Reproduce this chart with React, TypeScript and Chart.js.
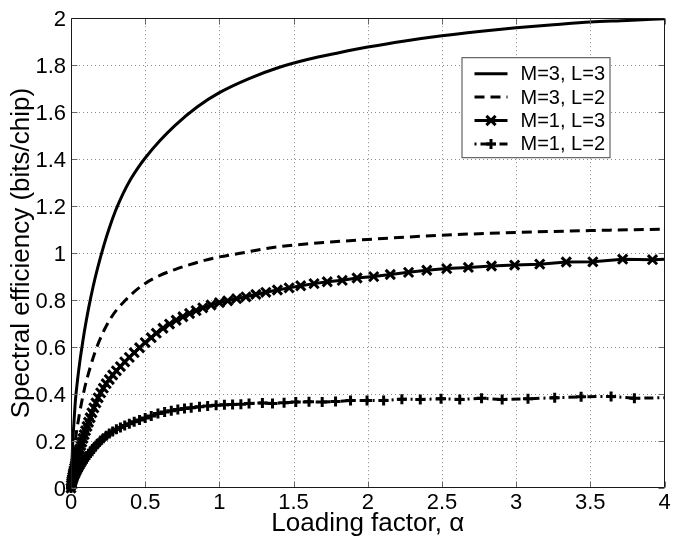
import React, { useEffect, useRef } from 'react';
import { Chart, registerables } from 'chart.js';

Chart.register(...registerables);

// ---------- data ----------
const xTickValues = [0, 0.5, 1, 1.5, 2, 2.5, 3, 3.5, 4];
const xTickLabels = ['0', '0.5', '1', '1.5', '2', '2.5', '3', '3.5', '4'];
const yTickValues = [0, 0.2, 0.4, 0.6, 0.8, 1, 1.2, 1.4, 1.6, 1.8, 2];
const yTickLabels = ['0', '0.2', '0.4', '0.6', '0.8', '1', '1.2', '1.4', '1.6', '1.8', '2'];

const seriesLabels = ['M=3, L=3', 'M=3, L=2', 'M=1, L=3', 'M=1, L=2'];
const xAxisTitle = 'Loading factor, α';
const yAxisTitle = 'Spectral efficiency (bits/chip)';

// M=3, L=3 (solid)
const m3l3X = [0, 0.01, 0.02, 0.03, 0.045, 0.06, 0.08, 0.1, 0.12, 0.15, 0.18, 0.22, 0.26, 0.3, 0.35, 0.4, 0.45, 0.5, 0.6, 0.7, 0.85, 1.0, 1.2, 1.4, 1.6, 1.8, 2.0, 2.25, 2.5, 2.75, 3.0, 3.25, 3.5, 3.75, 4.0];
const m3l3Y = [0, 0.17, 0.28, 0.375, 0.465, 0.54, 0.626, 0.702, 0.77, 0.86, 0.938, 1.03, 1.11, 1.18, 1.252, 1.312, 1.362, 1.405, 1.479, 1.543, 1.622, 1.683, 1.743, 1.79, 1.825, 1.852, 1.877, 1.903, 1.925, 1.943, 1.959, 1.972, 1.984, 1.99, 1.998];

// M=3, L=2 (dashed)
const m3l2X = [0, 0.01, 0.02, 0.035, 0.05, 0.07, 0.09, 0.11, 0.13, 0.16, 0.19, 0.23, 0.27, 0.31, 0.36, 0.42, 0.5, 0.6, 0.7, 0.8, 0.9, 1.0, 1.15, 1.3, 1.5, 1.75, 2.0, 2.5, 3.0, 3.5, 4.0];
const m3l2Y = [0, 0.09, 0.15, 0.23, 0.29, 0.36, 0.42, 0.47, 0.515, 0.575, 0.625, 0.68, 0.725, 0.76, 0.795, 0.832, 0.871, 0.905, 0.93, 0.951, 0.969, 0.984, 1.0, 1.018, 1.034, 1.047, 1.058, 1.076, 1.088, 1.096, 1.102];

// M=1, L=3 (solid with x markers)
const m1l3X = [0, 0.002, 0.004, 0.006, 0.008, 0.011, 0.014, 0.017, 0.02, 0.024, 0.028, 0.032, 0.037, 0.042, 0.047, 0.053, 0.059, 0.066, 0.073, 0.081, 0.089, 0.098, 0.108, 0.118, 0.129, 0.141, 0.154, 0.168, 0.183, 0.2, 0.218, 0.237, 0.258, 0.281, 0.306, 0.333, 0.362, 0.393, 0.426, 0.462, 0.5,
  0.541, 0.575, 0.62, 0.664, 0.709, 0.754, 0.799, 0.843, 0.888, 0.944, 1.0, 1.056, 1.116, 1.179, 1.246, 1.313, 1.391, 1.47, 1.548, 1.638, 1.727, 1.828, 1.928, 2.04, 2.152, 2.275, 2.398, 2.532, 2.678, 2.834, 2.99, 3.159, 3.338, 3.517, 3.718, 3.919, 4.12];
const m1l3Y = [0, 0.013, 0.022, 0.03, 0.037, 0.047, 0.057, 0.065, 0.074, 0.085, 0.095, 0.105, 0.117, 0.129, 0.141, 0.154, 0.166, 0.181, 0.195, 0.211, 0.227, 0.244, 0.262, 0.28, 0.299, 0.32, 0.341, 0.362, 0.384, 0.405, 0.425, 0.444, 0.462, 0.481, 0.499, 0.517, 0.537, 0.556, 0.576, 0.597, 0.619,
  0.64, 0.659, 0.68, 0.698, 0.714, 0.729, 0.743, 0.755, 0.767, 0.779, 0.789, 0.797, 0.806, 0.814, 0.824, 0.833, 0.843, 0.852, 0.861, 0.87, 0.878, 0.884, 0.894, 0.9, 0.909, 0.918, 0.927, 0.934, 0.939, 0.945, 0.949, 0.953, 0.962, 0.963, 0.974, 0.972, 0.977];

// M=1, L=2 (dash-dot with + markers)
const m1l2X = [0, 0.002, 0.004, 0.006, 0.008, 0.011, 0.014, 0.017, 0.02, 0.024, 0.028, 0.032, 0.037, 0.042, 0.047, 0.053, 0.059, 0.066, 0.073, 0.081, 0.089, 0.098, 0.108, 0.118, 0.129, 0.141, 0.154, 0.168, 0.183, 0.2, 0.218, 0.237, 0.258, 0.281, 0.306, 0.333, 0.362, 0.393, 0.426, 0.462, 0.5,
  0.541, 0.586, 0.631, 0.676, 0.72, 0.765, 0.81, 0.866, 0.921, 0.978, 1.034, 1.089, 1.145, 1.2, 1.29, 1.358, 1.436, 1.515, 1.604, 1.693, 1.783, 1.884, 1.995, 2.107, 2.23, 2.354, 2.494, 2.62, 2.767, 2.906, 3.08, 3.26, 3.438, 3.64, 3.797, 4.05];
const m1l2Y = [0, 0.007, 0.012, 0.016, 0.02, 0.025, 0.03, 0.034, 0.039, 0.045, 0.05, 0.055, 0.062, 0.068, 0.074, 0.081, 0.087, 0.095, 0.102, 0.11, 0.118, 0.126, 0.134, 0.142, 0.151, 0.161, 0.171, 0.181, 0.19, 0.202, 0.212, 0.222, 0.232, 0.241, 0.25, 0.258, 0.266, 0.274, 0.282, 0.29, 0.298,
  0.307, 0.317, 0.324, 0.329, 0.334, 0.338, 0.342, 0.346, 0.349, 0.352, 0.354, 0.356, 0.357, 0.36, 0.362, 0.36, 0.363, 0.366, 0.367, 0.366, 0.368, 0.373, 0.372, 0.372, 0.378, 0.377, 0.38, 0.377, 0.382, 0.377, 0.38, 0.384, 0.388, 0.39, 0.382, 0.385];

// ---------- styles ----------
const FONT = '"Liberation Sans", Arial, Helvetica, sans-serif';
const DASH_2 = [10, 6];
const DASH_4 = [9, 4, 2, 4];

const toPoints = (xs: number[], ys: number[]) => xs.map((x, i) => ({ x, y: ys[i] }));

function drawMarker(ctx: CanvasRenderingContext2D, kind: string, x: number, y: number, r: number) {
  ctx.beginPath();
  if (kind === 'cross') {
    ctx.moveTo(x - r, y); ctx.lineTo(x + r, y);
    ctx.moveTo(x, y - r); ctx.lineTo(x, y + r);
  } else {
    const d = r * Math.SQRT1_2;
    ctx.moveTo(x - d, y - d); ctx.lineTo(x + d, y + d);
    ctx.moveTo(x - d, y + d); ctx.lineTo(x + d, y - d);
  }
  ctx.stroke();
}

const framePlugin = {
  id: 'matlabFrame',
  beforeDatasetsDraw(chart: any) {
    const { ctx, chartArea: a, scales } = chart;
    const xs = scales.x, ys = scales.y;
    ctx.save();
    ctx.strokeStyle = '#8a8a8a';
    ctx.lineWidth = 1;
    ctx.setLineDash([1, 3]);
    xTickValues.slice(1, -1).forEach((v) => {
      const px = Math.round(xs.getPixelForValue(v)) + 0.5;
      ctx.beginPath(); ctx.moveTo(px, a.top); ctx.lineTo(px, a.bottom); ctx.stroke();
    });
    yTickValues.slice(1, -1).forEach((v) => {
      const py = Math.round(ys.getPixelForValue(v)) + 0.5;
      ctx.beginPath(); ctx.moveTo(a.left, py); ctx.lineTo(a.right, py); ctx.stroke();
    });
    ctx.restore();
  },
  afterDatasetsDraw(chart: any) {
    const { ctx, chartArea: a, scales } = chart;
    const xs = scales.x, ys = scales.y;
    const L = Math.round(a.left) + 0.5, R = Math.round(a.right) - 0.5;
    const T = Math.round(a.top) + 0.5, B = Math.round(a.bottom) - 0.5;
    ctx.save();
    ctx.setLineDash([]);
    ctx.strokeStyle = '#666';
    ctx.lineWidth = 1;
    const tl = 6;
    xTickValues.forEach((v) => {
      const px = Math.round(xs.getPixelForValue(v)) + 0.5;
      ctx.beginPath();
      ctx.moveTo(px, B); ctx.lineTo(px, B - tl);
      ctx.moveTo(px, T); ctx.lineTo(px, T + tl);
      ctx.stroke();
    });
    yTickValues.forEach((v) => {
      const py = Math.round(ys.getPixelForValue(v)) + 0.5;
      ctx.beginPath();
      ctx.moveTo(L, py); ctx.lineTo(L + tl, py);
      ctx.moveTo(R, py); ctx.lineTo(R - tl, py);
      ctx.stroke();
    });
    ctx.strokeStyle = '#1a1a1a';
    ctx.beginPath();
    ctx.rect(L, T, R - L, B - T);
    ctx.stroke();
    ctx.restore();
  },
  afterDraw(chart: any) {
    const { ctx, chartArea: a } = chart;
    const boxL = a.right - 203, boxT = a.top + 39, boxW = 149, boxH = 101;
    ctx.save();
    ctx.fillStyle = '#ffffff';
    ctx.fillRect(boxL, boxT, boxW, boxH);
    ctx.strokeStyle = '#444';
    ctx.lineWidth = 1;
    ctx.setLineDash([]);
    ctx.strokeRect(boxL + 0.5, boxT + 0.5, boxW - 1, boxH - 1);
    const ds = chart.data.datasets;
    ds.forEach((d: any, i: number) => {
      const ry = boxT + 16.5 + i * 23.4;
      const x1 = boxL + 13, x2 = boxL + 46;
      ctx.strokeStyle = '#000';
      ctx.lineWidth = d.borderWidth;
      ctx.setLineDash(d.borderDash || []);
      ctx.lineDashOffset = i === 3 ? 13 : 0;
      ctx.beginPath(); ctx.moveTo(x1, ry); ctx.lineTo(x2, ry); ctx.stroke();
      ctx.setLineDash([]);
      if (d.pointRadius > 0) {
        ctx.lineWidth = d.pointBorderWidth;
        drawMarker(ctx, d.pointStyle, (x1 + x2) / 2, ry, d.pointRadius);
      }
      ctx.fillStyle = '#000';
      ctx.font = `20px ${FONT}`;
      ctx.textBaseline = 'middle';
      ctx.textAlign = 'left';
      ctx.fillText(seriesLabels[i], boxL + 59, ry + 1);
    });
    ctx.restore();
  },
};

export default function App() {
  const ref = useRef<HTMLCanvasElement | null>(null);

  useEffect(() => {
    if (!ref.current) return;
    const clip = { left: 8, top: 0, right: 0, bottom: 8 };
    const chart = new Chart(ref.current, {
      type: 'line',
      data: {
        datasets: [
          {
            label: seriesLabels[0], data: toPoints(m3l3X, m3l3Y),
            borderColor: '#000', borderWidth: 3, pointRadius: 0,
            cubicInterpolationMode: 'monotone', clip,
          },
          {
            label: seriesLabels[1], data: toPoints(m3l2X, m3l2Y),
            borderColor: '#000', borderWidth: 3, borderDash: DASH_2, pointRadius: 0,
            cubicInterpolationMode: 'monotone', clip,
          },
          {
            label: seriesLabels[2], data: toPoints(m1l3X, m1l3Y),
            borderColor: '#000', borderWidth: 3, tension: 0,
            pointStyle: 'crossRot', pointRadius: 6.5, pointBorderWidth: 3,
            pointBorderColor: '#000', pointBackgroundColor: '#000', clip,
          },
          {
            label: seriesLabels[3], data: toPoints(m1l2X, m1l2Y),
            borderColor: '#000', borderWidth: 3, borderDash: DASH_4, tension: 0,
            pointStyle: 'cross', pointRadius: 5, pointBorderWidth: 3,
            pointBorderColor: '#000', pointBackgroundColor: '#000', clip,
          },
        ] as any,
      },
      options: {
        animation: false,
        responsive: false,
        devicePixelRatio: 1,
        events: [],
        layout: { padding: { left: 0, top: 18, right: 7, bottom: 0 } },
        plugins: { legend: { display: false }, tooltip: { enabled: false } },
        scales: {
          x: {
            type: 'linear', min: 0, max: 4,
            afterBuildTicks: (s: any) => { s.ticks = xTickValues.map((v) => ({ value: v })); },
            afterFit: (s: any) => { s.height = 54; },
            grid: { display: false, drawTicks: false },
            border: { display: false },
            ticks: {
              color: '#000', font: { family: FONT, size: 22 }, padding: 2,
              maxRotation: 0, autoSkip: false,
              callback: (_v: any, i: number) => xTickLabels[i],
            },
            title: {
              display: true, text: xAxisTitle, color: '#000',
              font: { family: FONT, size: 26 }, padding: { top: 0, bottom: 3 },
            },
          },
          y: {
            type: 'linear', min: 0, max: 2,
            afterBuildTicks: (s: any) => { s.ticks = yTickValues.map((v) => ({ value: v })); },
            afterFit: (s: any) => { s.width = 71; },
            grid: { display: false, drawTicks: false },
            border: { display: false },
            ticks: {
              color: '#000', font: { family: FONT, size: 22 }, padding: 5, labelOffset: 2,
              autoSkip: false,
              callback: (_v: any, i: number) => yTickLabels[i],
            },
            title: {
              display: true, text: yAxisTitle, color: '#000',
              font: { family: FONT, size: 26 }, padding: { top: 6, bottom: 0 },
            },
          },
        },
      } as any,
      plugins: [framePlugin],
    });
    return () => chart.destroy();
  }, []);

  return (
    <div style={{ position: 'absolute', left: 0, top: 0, width: 674, height: 542, background: '#fff' }}>
      <canvas ref={ref} width={674} height={542} style={{ width: 674, height: 542, display: 'block' }} />
    </div>
  );
}
